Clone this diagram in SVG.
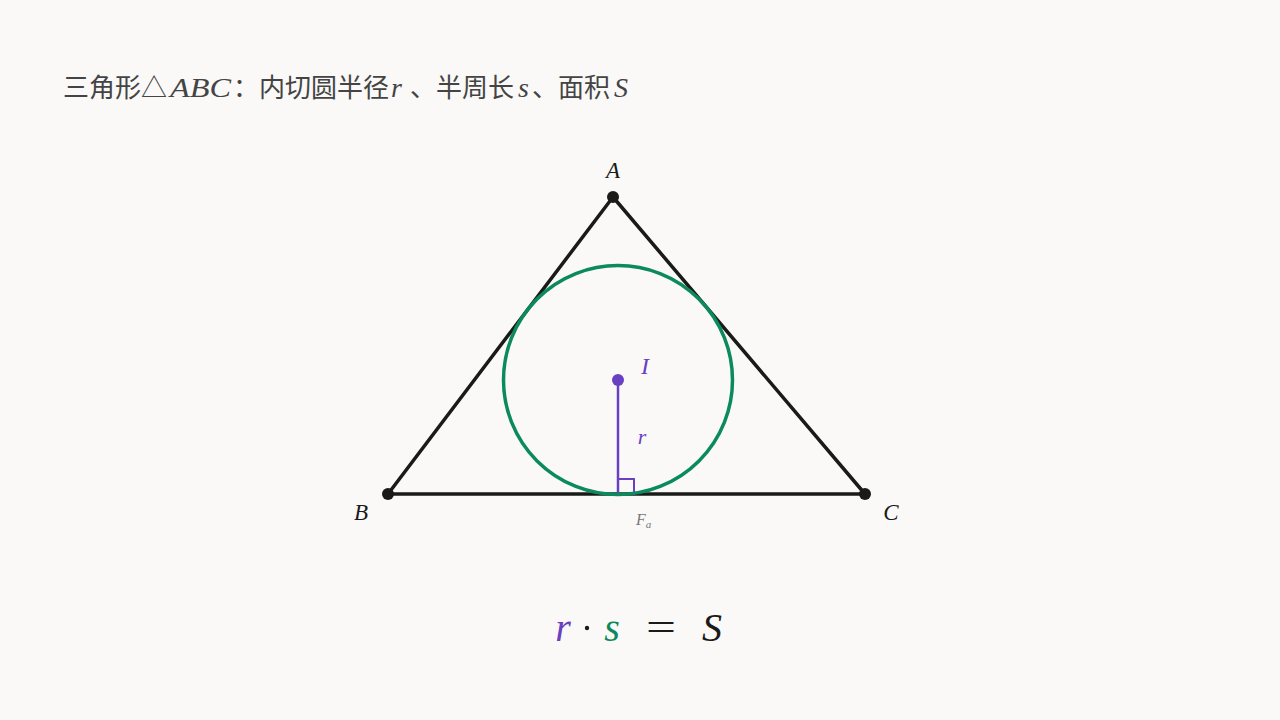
<svg xmlns="http://www.w3.org/2000/svg" width="1280" height="720" viewBox="0 0 1280 720">
<style>
.cjk{font-family:"Noto Sans CJK SC","Noto Sans",sans-serif;}
.m{font-family:"Liberation Serif","DejaVu Serif",serif;font-style:italic;}
.edge{stroke:#1a1a1a;stroke-width:3.5;fill:none;stroke-linecap:round;}
.pt{fill:#1a1a1a;}
.purple{fill:#6a40c2;}
.green{fill:#0b8a5e;}
</style>
<rect width="1280" height="720" fill="#faf9f7"/>
<g id="title" fill="#444" font-size="26">
<text class="cjk" x="63" y="97">三角形△</text>
<text class="m" x="170" y="97" font-size="28" textLength="61" lengthAdjust="spacingAndGlyphs">ABC</text>
<text class="cjk" x="233" y="97">：内切圆半径</text>
<text class="m" x="391" y="97" font-size="28">r</text>
<text class="cjk" x="410" y="97">、半周长</text>
<text class="m" x="518" y="97" font-size="28">s</text>
<text class="cjk" x="532" y="97">、面积</text>
<text class="m" x="614" y="97" font-size="28">S</text>
</g>
<g id="connectors">
<path class="edge" d="M613,197 L388,494 L865,494 Z" stroke-linejoin="round"/>
<line x1="618" y1="380" x2="618" y2="494" stroke="#6a40c2" stroke-width="2.5"/>
<rect x="618" y="479" width="16" height="15" fill="none" stroke="#6a40c2" stroke-width="2"/>
</g>
<g id="incircle">
<circle cx="618" cy="380" r="114.5" fill="none" stroke="#0b8a5e" stroke-width="3.5"/>
</g>
<g id="A"><circle class="pt" cx="613" cy="197" r="6"/><text class="m" x="613" y="178" font-size="23" text-anchor="middle" fill="#1a1a1a">A</text></g>
<g id="B"><circle class="pt" cx="388" cy="494" r="6"/><text class="m" x="361" y="520" font-size="23" text-anchor="middle" fill="#1a1a1a">B</text></g>
<g id="C"><circle class="pt" cx="865" cy="494" r="6"/><text class="m" x="891" y="520" font-size="23" text-anchor="middle" fill="#1a1a1a">C</text></g>
<g id="I"><circle class="purple" cx="618" cy="380" r="6"/><text class="m purple" x="645" y="374" font-size="24" text-anchor="middle">I</text></g>
<g id="r-label"><text class="m purple" x="642" y="444" font-size="22" text-anchor="middle">r</text></g>
<g id="Fa"><text class="m" x="636" y="525" font-size="16" fill="#777">F<tspan font-size="11" dy="3">a</tspan></text></g>
<g id="formula" font-size="40">
<text class="m purple" x="563" y="641" text-anchor="middle">r</text>
<circle cx="587" cy="628" r="2.2" fill="#1a1a1a"/>
<text class="m green" x="612" y="641" text-anchor="middle">s</text>
<text x="646" y="641" font-family="'Liberation Serif',serif" fill="#1a1a1a" textLength="30" lengthAdjust="spacingAndGlyphs">=</text>
<text class="m" x="712" y="641" text-anchor="middle" fill="#1a1a1a">S</text>
</g>
</svg>
